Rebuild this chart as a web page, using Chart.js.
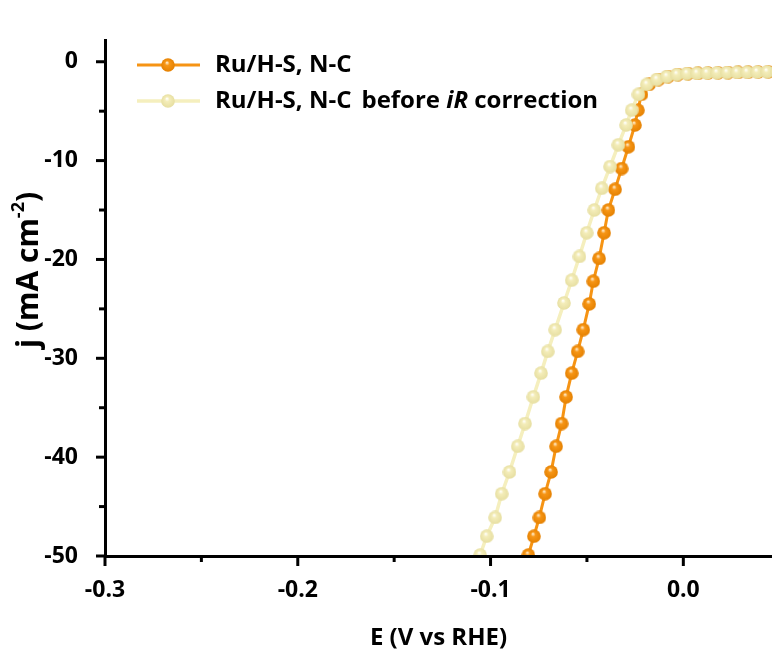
<!DOCTYPE html>
<html><head><meta charset="utf-8">
<script src="https://cdn.jsdelivr.net/npm/chart.js@4.4.0/dist/chart.umd.min.js"></script>
<style>html,body{margin:0;padding:0;background:#fff;}#wrap{position:relative;width:772px;height:657px;}</style>
</head><body><div id="wrap"><canvas id="c" width="772" height="657"></canvas></div>
<script>
// ---- data ----
const seriesNames = ['Ru/H-S, N-C', 'Ru/H-S, N-C'];
const legendSuffix = ['', 'before |iR| correction'];
const E_corrected = [-0.0804,-0.0775,-0.0747,-0.0717,-0.0686,-0.0660,-0.0631,-0.0608,-0.0579,-0.0548,-0.0519,-0.0488,-0.0467,-0.0437,-0.0411,-0.0389,-0.0354,-0.0320,-0.0285,-0.0251,-0.0236,-0.0217,-0.0178,-0.0129,-0.0079,-0.0028,0.0024,0.0076,0.0128,0.0180,0.0232,0.0284,0.0336,0.0388,0.0440,0.0492];
const j_corrected = [-49.9,-48.0,-46.1,-43.7,-41.5,-38.9,-36.6,-33.9,-31.5,-29.3,-27.1,-24.5,-22.2,-19.9,-17.3,-15.0,-12.9,-10.8,-8.6,-6.4,-4.9,-3.3,-2.3,-1.8,-1.5,-1.3,-1.2,-1.17,-1.14,-1.12,-1.10,-1.08,-1.06,-1.04,-1.02,-1.0];
const E_raw = [-0.1054,-0.1020,-0.0976,-0.0942,-0.0902,-0.0859,-0.0821,-0.0778,-0.0738,-0.0703,-0.0665,-0.0619,-0.0579,-0.0539,-0.0501,-0.0462,-0.0423,-0.0380,-0.0337,-0.0297,-0.0268,-0.0233,-0.0190,-0.0138,-0.0086,-0.0034,0.0018,0.0070,0.0122,0.0174,0.0226,0.0278,0.0330,0.0382,0.0434,0.0486];
const j_raw = [-49.9,-48.0,-46.1,-43.7,-41.5,-38.9,-36.6,-33.9,-31.5,-29.3,-27.1,-24.4,-22.1,-19.7,-17.3,-15.0,-12.8,-10.6,-8.4,-6.4,-4.9,-3.3,-2.3,-1.8,-1.5,-1.3,-1.2,-1.17,-1.14,-1.12,-1.10,-1.08,-1.06,-1.04,-1.02,-1.0];
const xTicksMajor = [-0.3,-0.2,-0.1,0.0];
const xTicksMinor = [-0.25,-0.15,-0.05];
const yTicksMajor = [0,-10,-20,-30,-40,-50];
const yTicksMinor = [-5,-15,-25,-35,-45];
const xTitle = 'E (V vs RHE)';
const yTitleParts = ['j (mA cm', '-2', ')'];

// ---- styles ----
const FONT = '"Open Sans"';
const orangeLine = 'rgb(246,148,20)';
const paleLine = 'rgb(245,239,190)';

function ball(base, light, dark, d){
  const c = document.createElement('canvas'); c.width = c.height = d;
  const g = c.getContext('2d'); const r = d/2;
  const grd = g.createRadialGradient(r-r*0.15, r-r*0.35, r*0.05, r, r, r);
  grd.addColorStop(0, light); grd.addColorStop(0.3, base); grd.addColorStop(1, dark);
  g.fillStyle = grd; g.beginPath(); g.arc(r, r, r-0.2, 0, Math.PI*2); g.fill();
  return c;
}
const orangeBall = ball('rgb(247,150,22)', 'rgb(255,235,200)', 'rgb(228,128,0)', 14);
const paleBall = ball('rgb(244,237,185)', 'rgb(255,255,250)', 'rgb(230,222,160)', 14);

const decor = {
  id: 'decor',
  afterDraw(chart){
    const ctx = chart.ctx, xs = chart.scales.x, ys = chart.scales.y, a = chart.chartArea;
    ctx.save();
    ctx.strokeStyle = '#000'; ctx.lineWidth = 3; ctx.lineCap = 'butt';
    const tick = (x1,y1,x2,y2)=>{ctx.beginPath();ctx.moveTo(x1,y1);ctx.lineTo(x2,y2);ctx.stroke();};
    xTicksMajor.forEach(v=>{const p=xs.getPixelForValue(v); tick(p,a.bottom,p,a.bottom+10);});
    xTicksMinor.forEach(v=>{const p=xs.getPixelForValue(v); tick(p,a.bottom,p,a.bottom+6);});
    yTicksMajor.forEach(v=>{const p=ys.getPixelForValue(v); tick(a.left,p,a.left-9,p);});
    yTicksMinor.forEach(v=>{const p=ys.getPixelForValue(v); tick(a.left,p,a.left-6,p);});
    // axis titles
    ctx.fillStyle = '#000';
    ctx.font = 'bold 24px ' + FONT;
    ctx.textAlign = 'center'; ctx.textBaseline = 'middle';
    ctx.fillText(xTitle, (a.left+a.right)/2, 638);
    // y title with superscript
    ctx.save();
    ctx.translate(29, 270); ctx.rotate(-Math.PI/2);
    const big = 'bold 30px ' + FONT, small = 'bold 18px ' + FONT;
    ctx.font = big; const w0 = ctx.measureText(yTitleParts[0]).width, w2 = ctx.measureText(yTitleParts[2]).width;
    ctx.font = small; const w1 = ctx.measureText(yTitleParts[1]).width;
    let x = -(w0+w1+w2)/2;
    ctx.textAlign = 'left';
    ctx.font = big; ctx.fillText(yTitleParts[0], x, 0); x += w0;
    ctx.font = small; ctx.fillText(yTitleParts[1], x, -10); x += w1;
    ctx.font = big; ctx.fillText(yTitleParts[2], x, 0);
    ctx.restore();
    // legend
    const rows = [{y:65, col:orangeLine, lw:3, img:orangeBall},{y:101, col:paleLine, lw:3.5, img:paleBall}];
    rows.forEach((r,i)=>{
      ctx.strokeStyle = r.col; ctx.lineWidth = r.lw;
      tick(137, r.y, 200, r.y);
      ctx.drawImage(r.img, 168 - r.img.width/2, r.y - r.img.height/2);
      ctx.fillStyle = '#000'; ctx.textAlign = 'left'; ctx.textBaseline = 'middle';
      ctx.font = 'bold 24px ' + FONT;
      let tx = 215;
      ctx.fillText(seriesNames[i], tx, r.y); tx += ctx.measureText(seriesNames[i]).width;
      if (legendSuffix[i]) {
        tx += 10;
        legendSuffix[i].split('|').forEach((seg, k)=>{
          ctx.font = (k===1 ? 'italic ' : '') + 'bold 24px ' + FONT;
          ctx.fillText(seg, tx, r.y); tx += ctx.measureText(seg).width;
        });
      }
    });
    ctx.restore();
  }
};

new Chart(document.getElementById('c'), {
  type: 'line',
  data: { datasets: [
    { label: seriesNames[1] + ' ' + legendSuffix[1].replace(/\|/g,''), data: E_raw.map((e,i)=>({x:e, y:j_raw[i]})),
      borderColor: paleLine, borderWidth: 3.5, pointStyle: paleBall, pointRadius: 7, pointHoverRadius: 7, tension: 0, clip: 0 },
    { label: seriesNames[0], data: E_corrected.map((e,i)=>({x:e, y:j_corrected[i]})),
      borderColor: orangeLine, borderWidth: 3, pointStyle: orangeBall, pointRadius: 7, pointHoverRadius: 7, tension: 0, clip: 0 }
  ]},
  options: {
    responsive: false, animation: false, devicePixelRatio: 1,
    layout: { autoPadding: false, padding: { top: 40, right: 0, left: 0, bottom: 0 } },
    plugins: { legend: { display: false }, tooltip: { enabled: false } },
    scales: {
      x: { type: 'linear', min: -0.3, max: 0.046,
        afterFit(s){ s.height = 101; s.paddingRight = 0; s.paddingLeft = 0; },
        afterBuildTicks(s){ s.ticks = xTicksMajor.map(v=>({value:v})); },
        grid: { display: false }, border: { display: true, width: 3, color: '#000', z: 1 },
        ticks: { font: { family: '"Open Sans"', weight: 'bold', size: 23 }, color: '#000', padding: 13, maxRotation: 0, autoSkip: false,
          callback: v => Number(v).toFixed(1) } },
      y: { type: 'linear', min: -50, max: 2.2,
        afterFit(s){ s.width = 105; s.paddingTop = 0; s.paddingBottom = 0; },
        afterBuildTicks(s){ s.ticks = yTicksMajor.map(v=>({value:v})); },
        grid: { display: false }, border: { display: true, width: 3, color: '#000', z: 1 },
        ticks: { font: { family: '"Open Sans"', weight: 'bold', size: 23 }, color: '#000', padding: 19, autoSkip: false,
          callback: v => String(v) } }
    }
  },
  plugins: [decor]
});
</script></body></html>
